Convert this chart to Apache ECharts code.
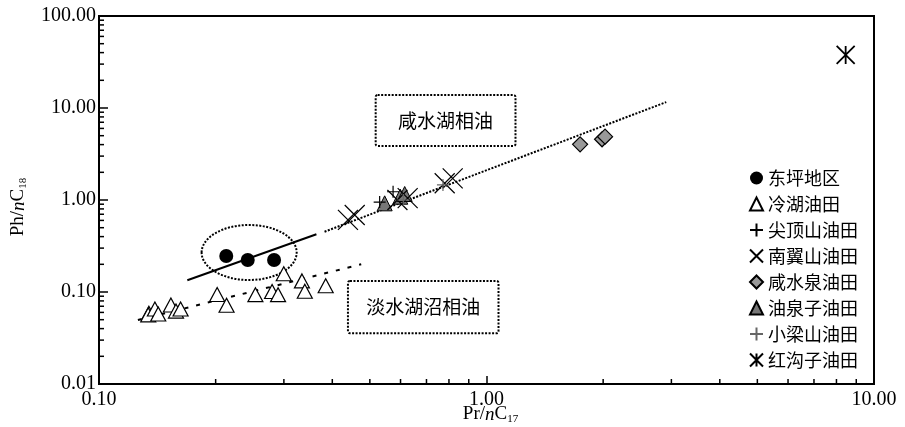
<!DOCTYPE html>
<html>
<head>
<meta charset="utf-8">
<script src="https://cdn.jsdelivr.net/npm/echarts@6/dist/echarts.min.js"></script>
<style>
  html, body { margin: 0; padding: 0; background: #fff; }
  #main { width: 905px; height: 427px; }
</style>
</head>
<body>
<div id="main"></div>
<script>
// 轴范围与刻度
var xRange = [0.1, 10];
var yRange = [0.01, 100];
var minorX = [0.2, 0.3, 0.4, 0.5, 0.6, 0.7, 0.8, 0.9, 2, 3, 4, 5, 6, 7, 8, 9];
var minorY = [0.02, 0.03, 0.04, 0.05, 0.06, 0.07, 0.08, 0.09,
              0.2, 0.3, 0.4, 0.5, 0.6, 0.7, 0.8, 0.9,
              2, 3, 4, 5, 6, 7, 8, 9,
              20, 30, 40, 50, 60, 70, 80, 90];

// 各油田数据 [Pr/nC17, Ph/nC18]
var dongping = [[0.213, 0.246], [0.242, 0.223], [0.283, 0.223]];
var lenghu = [[0.1345, 0.0587], [0.134, 0.0565], [0.1394, 0.0653], [0.1422, 0.0577],
              [0.1533, 0.0722], [0.158, 0.062], [0.1624, 0.0653], [0.2018, 0.0939],
              [0.2134, 0.0717], [0.2533, 0.0935], [0.2797, 0.1013], [0.2898, 0.0935],
              [0.2998, 0.158], [0.334, 0.132], [0.3397, 0.1018], [0.3846, 0.1168]];
var jiandingshan = [[0.574, 1.23], [0.53, 0.95]];
var nanyishan = [[0.439, 0.607], [0.457, 0.687], [0.589, 1.0], [0.626, 1.05], [0.78, 1.52], [0.818, 1.72]];
var xianshuiquan = [[1.744, 4.03], [1.987, 4.57], [2.023, 4.88]];
var youquanzi = [[0.546, 0.92], [0.599, 1.086], [0.615, 1.162]];
var xiaoliangshan = [[0.772, 1.46], [0.61, 1.0]];
var honggouzi = [[8.45, 37.7]];

// 趋势线
var dongpingLine = [[0.169, 0.134], [0.364, 0.424]];
var freshLine = [[0.126, 0.0496], [0.475, 0.2]];
var salineLine = [[0.382, 0.452], [2.91, 11.6]];

// 虚线椭圆 [x0, y0, x1, y1]
var ellipseBox = [[0.184, 0.135, 0.3237, 0.535]];
// 文本框 [x0, y0, x1, y1]
var noteBoxes = [[0.5176, 3.86, 1.188, 13.85], [0.439, 0.0356, 1.074, 0.132]];
var noteTexts = ['咸水湖相油', '淡水湖沼相油'];

var names = ['东坪地区', '冷湖油田', '尖顶山油田', '南翼山油田', '咸水泉油田', '油泉子油田', '小梁山油田', '红沟子油田'];

var plusPath = 'path://M5,0L5,10M0,5L10,5';
var crossPath = 'path://M0,0L10,10M10,0L0,10';
var starPath = 'path://M0,0L10,10M10,0L0,10M5,0L5,10';

var serif = '"Liberation Serif", "Times New Roman", serif';
var cjk = '"Noto Sans CJK SC", sans-serif';

var nameRich = {
  a: { fontFamily: serif, fontSize: 19, color: '#000', lineHeight: 20, verticalAlign: 'top' },
  i: { fontFamily: serif, fontSize: 19, fontStyle: 'italic', color: '#000', lineHeight: 20, verticalAlign: 'top' },
  s: { fontFamily: serif, fontSize: 11, color: '#000', lineHeight: 12, padding: [10, 0, 0, 0], verticalAlign: 'bottom' }
};

function fmt(v) { return Number(v).toFixed(2); }

var myChart = echarts.init(document.getElementById('main'));

myChart.setOption({
  animation: false,
  backgroundColor: '#fff',
  grid: {
    left: 99, right: 31, top: 16, bottom: 43,
    outerBoundsMode: 'none', containLabel: false,
    show: true, borderColor: '#000', borderWidth: 2
  },
  legend: {
    orient: 'vertical',
    left: 744, top: 163,
    itemWidth: 13, itemHeight: 13,
    itemGap: 6, itemTextGap: 9,
    data: names,
    textStyle: { fontFamily: cjk, fontSize: 18, color: '#000', lineHeight: 20 }
  },
  xAxis: {
    type: 'log', min: xRange[0], max: xRange[1], logBase: 10,
    name: '{a|Pr/}{i|n}{a|C}{s|17}',
    nameLocation: 'middle', nameGap: 21, nameMoveOverlap: false,
    nameTextStyle: { rich: nameRich, padding: [0, 0, 0, 8] },
    axisLine: { lineStyle: { color: '#000', width: 2 } },
    axisTick: { inside: true, length: 8, lineStyle: { color: '#000', width: 1.5 } },
    axisLabel: { formatter: fmt, fontFamily: serif, fontSize: 20, color: '#000', margin: 6 },
    splitLine: { show: false }
  },
  yAxis: {
    type: 'log', min: yRange[0], max: yRange[1], logBase: 10,
    name: '{a|Ph/}{i|n}{a|C}{s|18}',
    nameLocation: 'middle', nameGap: 70, nameRotate: 90,
    nameTextStyle: { rich: nameRich, padding: [0, 14, 0, 0] },
    axisLine: { lineStyle: { color: '#000', width: 2 } },
    axisTick: { inside: true, length: 9, lineStyle: { color: '#000', width: 1.5 } },
    axisLabel: { formatter: fmt, fontFamily: serif, fontSize: 20, color: '#000', margin: 3 },
    splitLine: { show: false }
  },
  series: [
    // 次刻度
    {
      type: 'custom', silent: true, z: 1,
      data: minorX.map(function (v) { return [v, yRange[0]]; }),
      renderItem: function (params, api) {
        var p = api.coord([api.value(0), api.value(1)]);
        return { type: 'line', shape: { x1: p[0], y1: p[1], x2: p[0], y2: p[1] - 5 }, style: { stroke: '#000', lineWidth: 1.5 } };
      }
    },
    {
      type: 'custom', silent: true, z: 1,
      data: minorY.map(function (v) { return [xRange[0], v]; }),
      renderItem: function (params, api) {
        var p = api.coord([api.value(0), api.value(1)]);
        return { type: 'line', shape: { x1: p[0], y1: p[1], x2: p[0] + 5, y2: p[1] }, style: { stroke: '#000', lineWidth: 1.5 } };
      }
    },
    // 趋势线
    { type: 'line', data: dongpingLine, symbol: 'none', silent: true, lineStyle: { color: '#000', width: 2 }, z: 2 },
    { type: 'line', data: freshLine, symbol: 'none', silent: true, lineStyle: { color: '#000', width: 2, type: [4, 8] }, z: 2 },
    { type: 'line', data: salineLine, symbol: 'none', silent: true, lineStyle: { color: '#000', width: 2, type: [2, 1.5] }, z: 2 },
    // 虚线椭圆
    {
      type: 'custom', silent: true, z: 2,
      data: ellipseBox,
      renderItem: function (params, api) {
        var p0 = api.coord([api.value(0), api.value(1)]);
        var p1 = api.coord([api.value(2), api.value(3)]);
        return {
          type: 'ellipse',
          shape: { cx: (p0[0] + p1[0]) / 2, cy: (p0[1] + p1[1]) / 2, rx: Math.abs(p1[0] - p0[0]) / 2, ry: Math.abs(p1[1] - p0[1]) / 2 },
          style: { fill: 'none', stroke: '#000', lineWidth: 2, lineDash: [2, 1.5] }
        };
      }
    },
    // 文本框
    {
      type: 'custom', silent: true, z: 2,
      data: noteBoxes,
      renderItem: function (params, api) {
        var p0 = api.coord([api.value(0), api.value(1)]);
        var p1 = api.coord([api.value(2), api.value(3)]);
        var x = Math.min(p0[0], p1[0]), y = Math.min(p0[1], p1[1]);
        var w = Math.abs(p1[0] - p0[0]), h = Math.abs(p1[1] - p0[1]);
        return {
          type: 'group',
          children: [
            { type: 'rect', shape: { x: x, y: y, width: w, height: h, r: 2 }, style: { fill: '#fff', stroke: '#000', lineWidth: 2, lineDash: [2, 1.5] } },
            { type: 'text', style: { text: noteTexts[params.dataIndex], x: x + w / 2, y: y + h / 2, align: 'center', verticalAlign: 'middle', fontFamily: cjk, fontSize: 19, fill: '#000' } }
          ]
        };
      }
    },
    // 散点
    { name: names[0], type: 'scatter', data: dongping, symbol: 'circle', symbolSize: 14, itemStyle: { color: '#000', opacity: 1 }, z: 5 },
    { name: names[1], type: 'scatter', data: lenghu, symbol: 'triangle', symbolSize: [15, 14], itemStyle: { color: '#fff', borderColor: '#000', borderWidth: 1.2, opacity: 1 }, z: 5 },
    { name: names[2], type: 'scatter', data: jiandingshan, symbol: plusPath, symbolSize: 12, itemStyle: { color: 'rgba(0,0,0,0)', borderColor: '#000', borderWidth: 1.2, opacity: 1 }, z: 6 },
    { name: names[3], type: 'scatter', data: nanyishan, symbol: crossPath, symbolSize: 20, itemStyle: { color: 'rgba(0,0,0,0)', borderColor: '#000', borderWidth: 1.2, opacity: 1 }, z: 6 },
    { name: names[4], type: 'scatter', data: xianshuiquan, symbol: 'diamond', symbolSize: 15, itemStyle: { color: '#999', borderColor: '#000', borderWidth: 1.2, opacity: 1 }, z: 5 },
    { name: names[5], type: 'scatter', data: youquanzi, symbol: 'triangle', symbolSize: [15, 15], itemStyle: { color: '#777', borderColor: '#000', borderWidth: 1, opacity: 1 }, z: 5 },
    { name: names[6], type: 'scatter', data: xiaoliangshan, symbol: plusPath, symbolSize: 12, itemStyle: { color: 'rgba(0,0,0,0)', borderColor: '#666', borderWidth: 1.2, opacity: 1 }, z: 6 },
    { name: names[7], type: 'scatter', data: honggouzi, symbol: starPath, symbolSize: 18, itemStyle: { color: 'rgba(0,0,0,0)', borderColor: '#000', borderWidth: 1.8, opacity: 1 }, z: 6 }
  ]
});
</script>
</body>
</html>
